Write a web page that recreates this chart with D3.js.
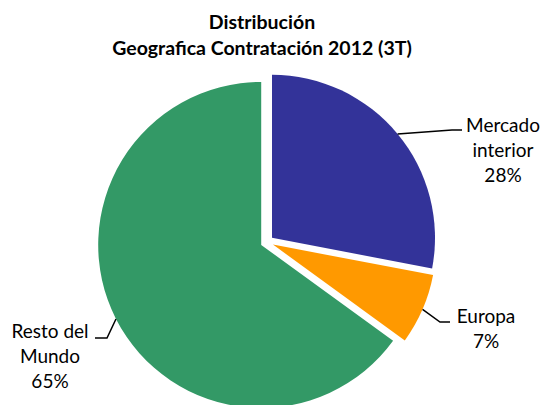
<!DOCTYPE html>
<html>
<head>
<meta charset="utf-8">
<script src="https://cdn.jsdelivr.net/npm/d3@7"></script>
<style>
  body { margin: 0; background: #fff; }
  svg { display: block; }
</style>
</head>
<body>
<div id="chart"></div>
<script>
// Data
const categories = ["Mercado interior", "Europa", "Resto del Mundo"];
const values = [28, 7, 65];
const labelLines = [["Mercado", "interior", "28%"], ["Europa", "7%"], ["Resto del", "Mundo", "65%"]];
const colors = ["#333399", "#FF9900", "#339966"];
const titleLines = ["Distribución", "Geografica Contratación 2012 (3T)"];

const width = 547, height = 405;
const cx = 267, cy = 242, radius = 163, explode = 6.5;

// Label layout: text anchor and where the leader line meets the text
const labelPos = [
    { x: 503, y: 132, side: "left", endX: 462, endY: 130 },
    { x: 486, y: 323, side: "left", endX: 450, endY: 322 },
    { x: 50, y: 338, side: "right", endX: 95, endY: 338 }
];

const svg = d3.select("#chart")
    .append("svg")
    .attr("width", width)
    .attr("height", height);

// Title
svg.append("g")
    .selectAll("text")
    .data(titleLines)
    .enter()
    .append("text")
    .attr("x", 262)
    .attr("y", (d, i) => 29 + i * 26)
    .attr("text-anchor", "middle")
    .style("font-family", "Lato, 'Open Sans', sans-serif")
    .style("font-weight", "bold")
    .style("font-size", "19.5px")
    .style("fill", "#000")
    .text(d => d);

const pie = d3.pie().sort(null).value(d => d);
const arcs = pie(values);
const arc = d3.arc().innerRadius(0).outerRadius(radius);

const offset = a => {
    const mid = (a.startAngle + a.endAngle) / 2;
    return [Math.sin(mid) * explode, -Math.cos(mid) * explode];
};

const g = svg.append("g").attr("transform", `translate(${cx}, ${cy})`);

g.selectAll("path")
    .data(arcs)
    .enter()
    .append("path")
    .attr("transform", d => `translate(${offset(d)})`)
    .attr("d", arc)
    .attr("fill", (d, i) => colors[i]);

// Leader lines from the slice edge to the label
arcs.forEach((a, i) => {
    const mid = (a.startAngle + a.endAngle) / 2;
    const [ox, oy] = offset(a);
    const sx = cx + ox + Math.sin(mid) * radius;
    const sy = cy + oy - Math.cos(mid) * radius;
    const p = labelPos[i];
    const elbowX = p.side === "left" ? p.endX - 10 : p.endX + 12;
    svg.append("path")
        .attr("d", d3.line()([[sx, sy], [elbowX, p.endY], [p.endX, p.endY]]))
        .attr("fill", "none")
        .attr("stroke", "#000")
        .attr("stroke-width", 1.5);

    svg.append("text")
        .attr("text-anchor", "middle")
        .style("font-family", "Lato, 'Open Sans', sans-serif")
        .style("font-size", "19px")
        .style("fill", "#000")
        .selectAll("tspan")
        .data(labelLines[i])
        .enter()
        .append("tspan")
        .attr("x", p.x)
        .attr("y", (d, j) => p.y + j * 25)
        .text(d => d);
});
</script>
</body>
</html>
